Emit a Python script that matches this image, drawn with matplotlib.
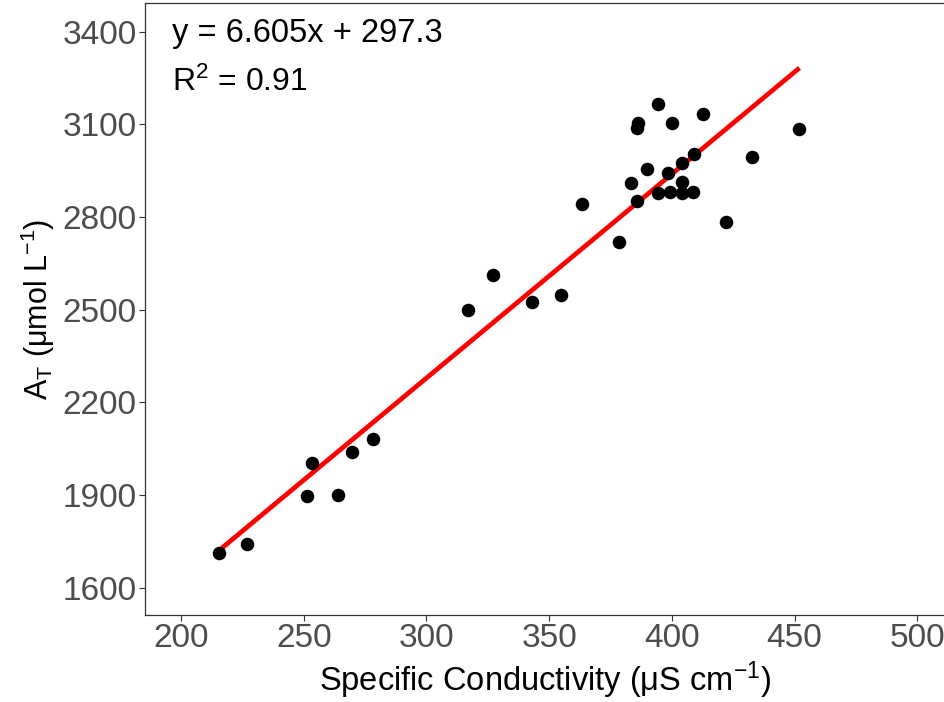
import matplotlib
matplotlib.use("Agg")
import matplotlib.pyplot as plt

# ── data ──────────────────────────────────────────────────────────────────────
spec_cond = [215.5, 226.9, 251.3, 253.4, 263.9, 269.8, 278.4, 317.1, 327.1,
             343.2, 354.7, 363.4, 378.6, 383.3, 385.7, 385.7, 386.1, 389.8,
             394.5, 394.5, 398.6, 399.3, 400.0, 404.0, 404.2, 404.3, 408.5,
             409.2, 412.6, 422.0, 432.8, 452.0]
alkalinity = [1712, 1741, 1897, 2003, 1899, 2040, 2082, 2499, 2613,
              2524, 2548, 2841, 2719, 2910, 2852, 3089, 3105, 2955,
              3166, 2879, 2941, 2882, 3105, 2974, 2912, 2877, 2882,
              3004, 3133, 2783, 2994, 3086]

slope, intercept, r2 = 6.605, 297.3, 0.91

x_ticks = [200, 250, 300, 350, 400, 450, 500]
y_ticks = [1600, 1900, 2200, 2500, 2800, 3100, 3400]

# ── style ─────────────────────────────────────────────────────────────────────
plt.rcParams.update({
    "font.family":        ["Liberation Sans", "DejaVu Sans"],
    "mathtext.fontset":   "custom",
    "mathtext.rm":        "Liberation Sans",
    "mathtext.it":        "Liberation Sans",
    "mathtext.default":   "regular",
    "font.size":          22,
})

fig = plt.figure(figsize=(9.45, 7.02), dpi=100)
ax = fig.add_axes([0.1534, 0.1239, 0.8466, 0.8714])

ax.scatter(spec_cond, alkalinity, s=95, color="black", zorder=3, linewidths=0)

# fitted line over the observed range
x0, x1 = min(spec_cond), max(spec_cond)
ax.plot([x0, x1], [slope * x0 + intercept, slope * x1 + intercept],
        color="#FF0000", linewidth=3.4, solid_capstyle="butt", zorder=2)

ax.set_xlim(185.3, 511.3)
ax.set_ylim(1511.6, 3492)
ax.set_xticks(x_ticks)
ax.set_yticks(y_ticks)
ax.tick_params(axis="both", direction="out", length=4, width=0.8,
               color="#333333", labelcolor="#4D4D4D", labelsize=24, pad=2)
for sp in ax.spines.values():
    sp.set_color("#333333")
    sp.set_linewidth(0.9)

ax.set_xlabel(r"Specific Conductivity ($\mu$S cm$^{-1}$)", fontsize=23.5,
              va="center")
ax.xaxis.set_label_coords(0.5, -0.106)
ax.set_ylabel(r"A$_T$ ($\mu$mol L$^{-1}$)", fontsize=22, va="center")
ax.yaxis.set_label_coords(-0.134, 0.5)

ax.text(0.034, 0.951, f"y = {slope:.3f}x + {intercept:.1f}",
        transform=ax.transAxes, ha="left", va="center", fontsize=23.5)
ax.text(0.034, 0.871, rf"R$^2$ = {r2:.2f}",
        transform=ax.transAxes, ha="left", va="center", fontsize=23)

fig.savefig("out.png", dpi=100)
